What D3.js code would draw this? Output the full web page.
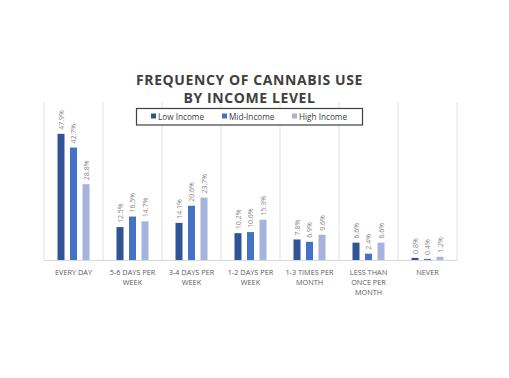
<!DOCTYPE html>
<html><head><meta charset="utf-8">
<script src="https://cdn.jsdelivr.net/npm/d3@7"></script>
<style>body{margin:0;background:#fff;}svg{display:block;}</style>
</head><body>
<svg id="c" width="509" height="378"></svg>
<script>
const categories = ["EVERY DAY","5-6 DAYS PER WEEK","3-4 DAYS PER WEEK","1-2 DAYS PER WEEK","1-3 TIMES PER MONTH","LESS THAN ONCE PER MONTH","NEVER"];
const categoryLines = [["EVERY DAY"],["5-6 DAYS PER","WEEK"],["3-4 DAYS PER","WEEK"],["1-2 DAYS PER","WEEK"],["1-3 TIMES PER","MONTH"],["LESS THAN","ONCE PER","MONTH"],["NEVER"]];
const seriesNames = ["Low Income","Mid-Income","High Income"];
const lowIncome = [47.9,12.5,14.1,10.2,7.8,6.6,0.8];
const midIncome = [42.7,16.5,20.6,10.6,6.9,2.4,0.4];
const highIncome = [28.8,14.7,23.7,15.3,9.6,6.6,1.2];
const colors = ["#2F5597","#4472C4","#A5B4DC"];
const titleLines = ["FREQUENCY OF CANNABIS USE","BY INCOME LEVEL"];

const series = [lowIncome, midIncome, highIncome];
const svg = d3.select("#c");
const font = "Open Sans, Lato, sans-serif";

const x0 = d3.scaleBand().domain(categories).range([44,457]).paddingInner(0).paddingOuter(0);
const bw = x0.bandwidth();
const x1 = d3.scaleBand().domain(seriesNames).range([bw/2-16, bw/2+16]).paddingInner(0.44).paddingOuter(0);
const y = d3.scaleLinear().domain([0,60]).range([260,102]);

// vertical gridlines
const gx = [...categories.map(c=>x0(c)), x0(categories[categories.length-1])+bw];
svg.append("g").selectAll("line").data(gx).join("line")
  .attr("x1",d=>d).attr("x2",d=>d).attr("y1",y(60)).attr("y2",y(0))
  .attr("stroke","#e0e0e0").attr("stroke-width",1);

// baseline
svg.append("line").attr("x1",44).attr("x2",457).attr("y1",y(0)+0.5).attr("y2",y(0)+0.5)
  .attr("stroke","#d9d9d9").attr("stroke-width",1);

// bars
series.forEach((vals,si)=>{
  const g = svg.append("g");
  g.selectAll("rect").data(vals).join("rect")
    .attr("x",(d,i)=>x0(categories[i])+x1(seriesNames[si]))
    .attr("y",d=>y(d))
    .attr("width",x1.bandwidth())
    .attr("height",d=>y(0)-y(d))
    .attr("fill",colors[si]);
  g.selectAll("text").data(vals).join("text")
    .attr("transform",(d,i)=>{
      const cx = x0(categories[i])+x1(seriesNames[si])+x1.bandwidth()/2+2.5;
      return `translate(${cx},${y(d)-4}) rotate(-90)`;
    })
    .attr("font-family",font).attr("font-size",7).attr("fill","#8a8a8a")
    .text(d=>d.toFixed(1)+"%");
});

// x labels
categoryLines.forEach((lines,i)=>{
  const t = svg.append("text").attr("x",x0(categories[i])+bw/2).attr("y",275)
    .attr("text-anchor","middle").attr("font-family",font).attr("font-size",7.3).attr("fill","#595959");
  lines.forEach((l,j)=>t.append("tspan").attr("x",x0(categories[i])+bw/2).attr("dy",j===0?0:10).text(l));
});

// title
titleLines.forEach((l,i)=>{
  svg.append("text").attr("x",249.5).attr("y",85+i*18).attr("text-anchor","middle")
    .attr("font-family",font).attr("font-weight","bold").attr("font-size",14)
    .attr("letter-spacing",0.6).attr("fill","#404040").text(l);
});

// legend
svg.append("rect").attr("x",136.5).attr("y",108.5).attr("width",226).attr("height",16.5)
  .attr("fill","#fff").attr("stroke","#404040").attr("stroke-width",1.2);
const legX = [151,222,292];
seriesNames.forEach((n,i)=>{
  svg.append("rect").attr("x",legX[i]).attr("y",113.5).attr("width",5).attr("height",5).attr("fill",colors[i]);
  svg.append("text").attr("x",legX[i]+7).attr("y",119.5).attr("font-family",font).attr("font-size",8.2)
    .attr("fill","#404040").text(n);
});
</script>
</body></html>
